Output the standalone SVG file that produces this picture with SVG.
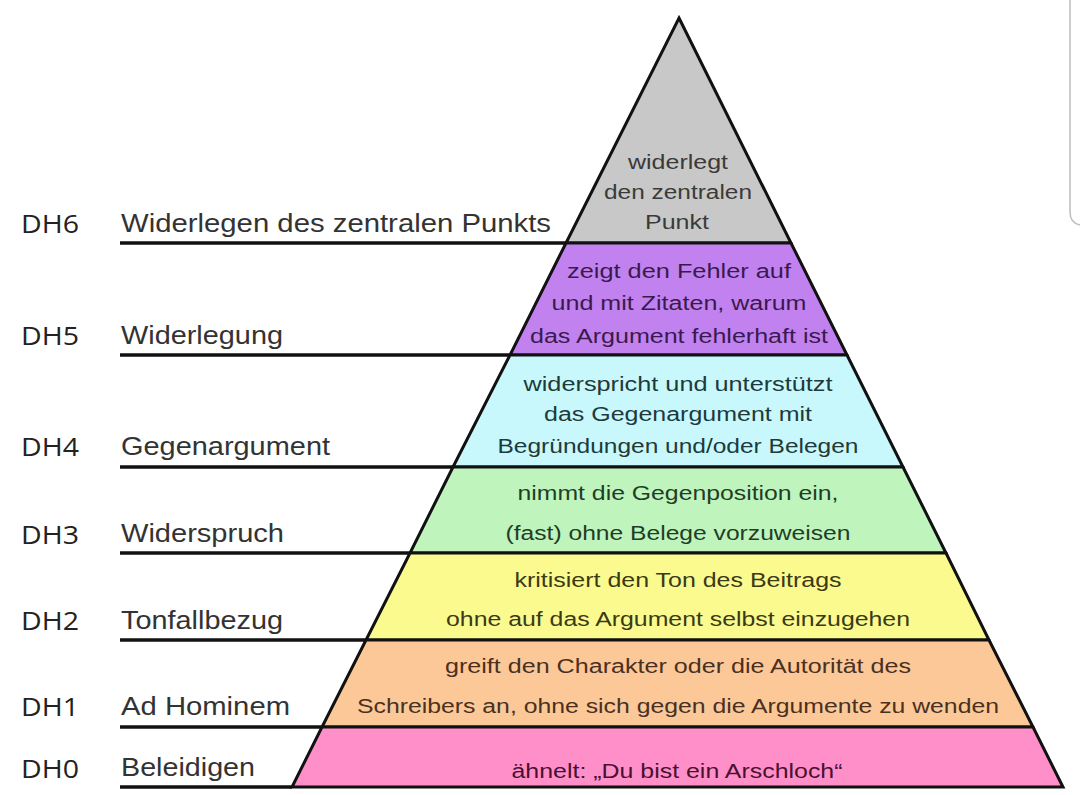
<svg xmlns="http://www.w3.org/2000/svg" width="1080" height="795" viewBox="0 0 1080 795">
<style>
.layer{stroke:#111;stroke-width:3;stroke-linejoin:miter}
.rule{stroke:#111;stroke-width:3.5;fill:none}
.dh{font-family:"Open Sans","Liberation Sans",sans-serif;font-size:25px;fill:#222}
.lbl{font-family:"Liberation Sans",Arial,sans-serif;font-size:26px;fill:#333}
.in{font-family:"Liberation Sans",Arial,sans-serif;font-size:20px;text-anchor:middle}
</style>
<rect width="1080" height="795" fill="#ffffff"/>
<path d="M1070,0 V212 Q1070,223 1080,225" fill="none" stroke="#bdbdbd" stroke-width="1.5"/>

<g id="connectors">
<line class="rule" x1="120" y1="243" x2="566" y2="243"/>
<line class="rule" x1="120" y1="355" x2="510" y2="355"/>
<line class="rule" x1="120" y1="467" x2="453" y2="467"/>
<line class="rule" x1="120" y1="553" x2="410" y2="553"/>
<line class="rule" x1="120" y1="640" x2="366" y2="640"/>
<line class="rule" x1="120" y1="727" x2="322" y2="727"/>
<line class="rule" x1="120" y1="787" x2="292" y2="787"/>
</g>

<g id="dh6">
<polygon class="layer" fill="#c8c8c8" points="679,18 791,243 566,243"/>
<text class="in" fill="#3a3a3a"><tspan x="678" y="169" textLength="100" lengthAdjust="spacingAndGlyphs">widerlegt</tspan><tspan x="678" y="199" textLength="148" lengthAdjust="spacingAndGlyphs">den zentralen</tspan><tspan x="677" y="229" textLength="64" lengthAdjust="spacingAndGlyphs">Punkt</tspan></text>
<text class="dh" x="21" y="233" textLength="58" lengthAdjust="spacingAndGlyphs">DH6</text>
<text class="lbl" x="121" y="232" textLength="430" lengthAdjust="spacingAndGlyphs">Widerlegen des zentralen Punkts</text>
</g>

<g id="dh5">
<polygon class="layer" fill="#c182f0" points="566,243 791,243 847,355 510,355"/>
<text class="in" fill="#3a1a4e"><tspan x="679" y="278" textLength="224" lengthAdjust="spacingAndGlyphs">zeigt den Fehler auf</tspan><tspan x="679" y="310" textLength="255" lengthAdjust="spacingAndGlyphs">und mit Zitaten, warum</tspan><tspan x="679" y="343" textLength="298" lengthAdjust="spacingAndGlyphs">das Argument fehlerhaft ist</tspan></text>
<text class="dh" x="21" y="345" textLength="58" lengthAdjust="spacingAndGlyphs">DH5</text>
<text class="lbl" x="121" y="344" textLength="162" lengthAdjust="spacingAndGlyphs">Widerlegung</text>
</g>

<g id="dh4">
<polygon class="layer" fill="#c8f8fb" points="510,355 847,355 903,467 453,467"/>
<text class="in" fill="#1e3a3c"><tspan x="678" y="391" textLength="309" lengthAdjust="spacingAndGlyphs">widerspricht und unterstützt</tspan><tspan x="678" y="421" textLength="268" lengthAdjust="spacingAndGlyphs">das Gegenargument mit</tspan><tspan x="678" y="453" textLength="361" lengthAdjust="spacingAndGlyphs">Begründungen und/oder Belegen</tspan></text>
<text class="dh" x="21" y="456" textLength="58" lengthAdjust="spacingAndGlyphs">DH4</text>
<text class="lbl" x="121" y="455" textLength="209" lengthAdjust="spacingAndGlyphs">Gegenargument</text>
</g>

<g id="dh3">
<polygon class="layer" fill="#bff4bd" points="453,467 903,467 946,553 410,553"/>
<text class="in" fill="#1e3e26"><tspan x="678" y="500" textLength="321" lengthAdjust="spacingAndGlyphs">nimmt die Gegenposition ein,</tspan><tspan x="678" y="540" textLength="345" lengthAdjust="spacingAndGlyphs">(fast) ohne Belege vorzuweisen</tspan></text>
<text class="dh" x="21" y="544" textLength="58" lengthAdjust="spacingAndGlyphs">DH3</text>
<text class="lbl" x="121" y="542" textLength="163" lengthAdjust="spacingAndGlyphs">Widerspruch</text>
</g>

<g id="dh2">
<polygon class="layer" fill="#fafa8f" points="410,553 946,553 989,640 366,640"/>
<text class="in" fill="#3a3a16"><tspan x="678" y="587" textLength="327" lengthAdjust="spacingAndGlyphs">kritisiert den Ton des Beitrags</tspan><tspan x="678" y="626" textLength="464" lengthAdjust="spacingAndGlyphs">ohne auf das Argument selbst einzugehen</tspan></text>
<text class="dh" x="21" y="630" textLength="58" lengthAdjust="spacingAndGlyphs">DH2</text>
<text class="lbl" x="121" y="629" textLength="162" lengthAdjust="spacingAndGlyphs">Tonfallbezug</text>
</g>

<g id="dh1">
<polygon class="layer" fill="#fcc898" points="366,640 989,640 1033,727 322,727"/>
<text class="in" fill="#4a3020"><tspan x="678" y="673" textLength="466" lengthAdjust="spacingAndGlyphs">greift den Charakter oder die Autorität des</tspan><tspan x="678" y="713" textLength="642" lengthAdjust="spacingAndGlyphs">Schreibers an, ohne sich gegen die Argumente zu wenden</tspan></text>
<text class="dh" x="21" y="716" textLength="58" lengthAdjust="spacingAndGlyphs">DH1</text>
<text class="lbl" x="121" y="715" textLength="169" lengthAdjust="spacingAndGlyphs">Ad Hominem</text>
</g>

<g id="dh0">
<polygon class="layer" fill="#ff8fc8" points="322,727 1033,727 1063,787 292,787"/>
<text class="in" fill="#4a1032" x="677" y="778" textLength="331" lengthAdjust="spacingAndGlyphs">ähnelt: „Du bist ein Arschloch“</text>
<text class="dh" x="21" y="778" textLength="58" lengthAdjust="spacingAndGlyphs">DH0</text>
<text class="lbl" x="121" y="776" textLength="134" lengthAdjust="spacingAndGlyphs">Beleidigen</text>
</g>
</svg>
